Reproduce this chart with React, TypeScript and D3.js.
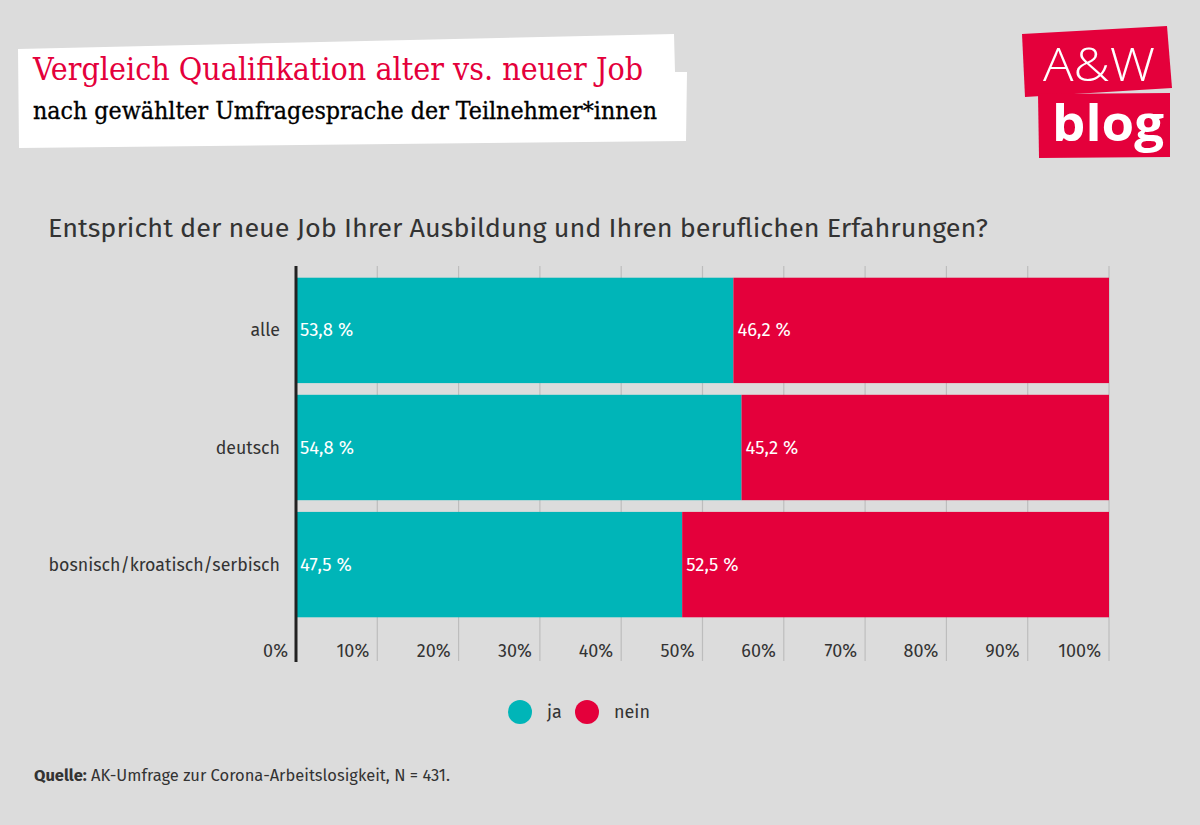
import React from "react";
import * as d3 from "d3";

const categories = ["alle", "deutsch", "bosnisch/kroatisch/serbisch"];
const jaValues = [53.8, 54.8, 47.5];
const neinValues = [46.2, 45.2, 52.5];
const ticks = [0, 10, 20, 30, 40, 50, 60, 70, 80, 90, 100];
const legendItems = ["ja", "nein"];

const W = 1200, H = 825;
const TEAL = "#00b5b8", RED = "#e4003b", BG = "#dcdcdc", TXT = "#333333";
const SANS = "'Fira Sans','Noto Sans','Open Sans',sans-serif";

export default function App() {
  const x = d3.scaleLinear().domain([0, 100]).range([296, 1109]);
  const y = d3.scaleBand().domain(categories).range([266, 629]).paddingInner(0.1).paddingOuter(0.1);
  const fmt = (v: number) => v.toFixed(1).replace(".", ",") + " %";
  const colors = [TEAL, RED];
  return (
    <svg width={W} height={H} style={{ position: "absolute", left: 0, top: 0, display: "block" }}>
      <rect width={W} height={H} fill={BG} />
      {/* title box */}
      <polygon points="18,49 674,34 675,72 687,72 686,141 19,148" fill="#ffffff" />
      <text x={33} y={80} fill={RED} fontFamily="'DejaVu Serif Condensed','DejaVu Serif',serif" fontSize={32} textLength={610} lengthAdjust="spacingAndGlyphs">Vergleich Qualifikation alter vs. neuer Job</text>
      <text x={33} y={119} fill="#000" stroke="#000" strokeWidth={0.3} fontFamily="'DejaVu Serif Condensed','DejaVu Serif',serif" fontSize={24} textLength={624} lengthAdjust="spacingAndGlyphs">nach gewählter Umfragesprache der Teilnehmer*innen</text>
      {/* logo */}
      <polygon points="1022,34 1167,26 1172,88 1025,97" fill={RED} />
      <polygon points="1038,94 1170,93 1170,157 1039,158" fill={RED} />
      <text x={1099} y={81} textAnchor="middle" fill="#fff" fontFamily="'Open Sans',sans-serif" fontSize={46} fontWeight={300} textLength={112} lengthAdjust="spacingAndGlyphs">A&amp;W</text>
      <text x={1108} y={141} textAnchor="middle" fill="#fff" fontFamily="'Open Sans',sans-serif" fontSize={50} fontWeight={700} textLength={112} lengthAdjust="spacingAndGlyphs">blog</text>
      {/* question */}
      <text x={48} y={237} fill={TXT} fontFamily={SANS} fontSize={26} textLength={940} lengthAdjust="spacingAndGlyphs">Entspricht der neue Job Ihrer Ausbildung und Ihren beruflichen Erfahrungen?</text>
      {/* gridlines */}
      {ticks.filter(t => t > 0).map(t => (
        <line key={t} x1={x(t)} x2={x(t)} y1={266} y2={661} stroke="#bdbdbd" strokeWidth={1.2} />
      ))}
      {/* bars */}
      {categories.map((c, i) => {
        const y0 = y(c)!;
        const bh = y.bandwidth();
        return (
          <g key={c}>
            <rect x={x(0)} y={y0} width={x(jaValues[i]) - x(0)} height={bh} fill={TEAL} />
            <rect x={x(jaValues[i])} y={y0} width={x(jaValues[i] + neinValues[i]) - x(jaValues[i])} height={bh} fill={RED} />
            <text x={x(0) + 4} y={y0 + bh / 2 + 6} fill="#fff" fontFamily={SANS} fontSize={18.5}>{fmt(jaValues[i])}</text>
            <text x={x(jaValues[i]) + 4} y={y0 + bh / 2 + 6} fill="#fff" fontFamily={SANS} fontSize={18.5}>{fmt(neinValues[i])}</text>
            <text x={280} y={y0 + bh / 2 + 6} textAnchor="end" fill={TXT} fontFamily={SANS} fontSize={17.8}>{c}</text>
          </g>
        );
      })}
      {/* axis line */}
      <line x1={x(0)} x2={x(0)} y1={266} y2={662} stroke="#222" strokeWidth={3} />
      {/* tick labels */}
      {ticks.map(t => (
        <text key={t} x={x(t) - 8} y={657} textAnchor="end" fill={TXT} fontFamily={SANS} fontSize={18}>{t}%</text>
      ))}
      {/* legend */}
      {legendItems.map((l, i) => {
        const cx = i === 0 ? 520 : 587;
        return (
          <g key={l}>
            <circle cx={cx} cy={712} r={12} fill={colors[i]} />
            <text x={cx + 27} y={718} fill={TXT} fontFamily={SANS} fontSize={18}>{l}</text>
          </g>
        );
      })}
      {/* source */}
      <text x={34} y={781} fill={TXT} fontFamily={SANS} fontSize={16.5}>
        <tspan fontWeight={700}>Quelle:</tspan>
        <tspan> AK-Umfrage zur Corona-Arbeitslosigkeit, N = 431.</tspan>
      </text>
    </svg>
  );
}
